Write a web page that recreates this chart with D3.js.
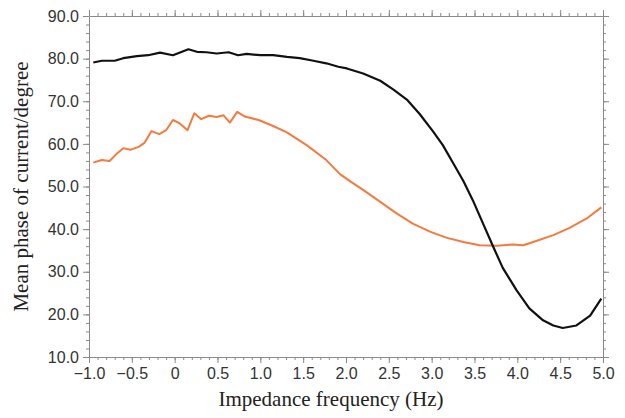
<!DOCTYPE html>
<html>
<head>
<meta charset="utf-8">
<script src="https://d3js.org/d3.v7.min.js"></script>
<style>
  body { margin: 0; background: #fff; }
  .tick text { font-family: "Liberation Sans", Arial, sans-serif; font-size: 16px; fill: #333; }
  .axis path, .axis line { stroke: #8a8a8a; }
  .lbl { font-family: "Liberation Serif", "Times New Roman", serif; font-size: 21px; fill: #222; }
</style>
</head>
<body>
<svg id="chart" width="625" height="418"></svg>
<script>
// frequency (Hz) and mean phase (degree)
var blackX = [-0.95,-0.85,-0.70,-0.60,-0.44,-0.31,-0.17,-0.02,0.16,0.26,0.37,0.49,0.63,0.74,0.84,1.00,1.15,1.31,1.46,1.62,1.77,1.91,2.01,2.20,2.40,2.55,2.71,2.86,3.02,3.13,3.25,3.37,3.48,3.60,3.72,3.83,3.99,4.14,4.30,4.42,4.53,4.69,4.85,4.98];
var blackY = [79.1,79.5,79.5,80.1,80.6,80.8,81.4,80.8,82.2,81.6,81.5,81.2,81.5,80.8,81.1,80.8,80.8,80.4,80.1,79.5,78.9,78.1,77.7,76.5,74.8,72.8,70.4,67.0,62.8,59.7,55.5,51.3,46.8,41.3,35.8,30.9,25.7,21.4,18.6,17.4,16.8,17.4,19.7,23.7];

var orangeX = [-0.95,-0.85,-0.76,-0.68,-0.60,-0.52,-0.42,-0.35,-0.27,-0.18,-0.10,-0.02,0.06,0.15,0.23,0.31,0.40,0.49,0.57,0.645,0.73,0.82,0.98,1.15,1.31,1.54,1.77,1.93,2.05,2.20,2.40,2.59,2.78,2.98,3.17,3.37,3.56,3.76,3.95,4.07,4.22,4.42,4.61,4.81,4.98];
var orangeY = [55.6,56.2,56.0,57.6,59.0,58.6,59.3,60.3,63.0,62.3,63.2,65.6,64.8,63.2,67.2,65.8,66.6,66.3,66.7,65.0,67.5,66.4,65.6,64.2,62.7,59.7,56.2,52.9,51.2,49.2,46.4,43.7,41.3,39.4,38.0,37.0,36.2,36.1,36.4,36.2,37.2,38.6,40.3,42.5,45.1];

var xTicks = [-1.0,-0.5,0,0.5,1.0,1.5,2.0,2.5,3.0,3.5,4.0,4.5,5.0];
var yTicks = [10,20,30,40,50,60,70,80,90];

var padL = 89, padR = 603, padT = 16, padB = 357;
var svg = d3.select("#chart");

var x = d3.scaleLinear().domain([-1, 5]).range([padL, padR]);
var y = d3.scaleLinear().domain([10, 90]).range([padB, padT]);

var xMinor = d3.range(-1, 5.0001, 0.1).map(function(d) { return Math.round(d * 10) / 10; });
var yMinor = d3.range(10, 90.001, 2);

function fmtX(d) {
  if (d === 0) return "0";
  return (d < 0 ? "\u2212" : "") + Math.abs(d).toFixed(1);
}

// minor ticks
svg.append("g").attr("class", "axis").attr("transform", "translate(0," + padB + ")")
  .call(d3.axisBottom(x).tickValues(xMinor).tickSize(3).tickFormat(""))
  .select(".domain").remove();
svg.append("g").attr("class", "axis").attr("transform", "translate(0," + padT + ")")
  .call(d3.axisTop(x).tickValues(xMinor).tickSize(3).tickFormat(""))
  .select(".domain").remove();
svg.append("g").attr("class", "axis").attr("transform", "translate(" + padL + ",0)")
  .call(d3.axisLeft(y).tickValues(yMinor).tickSize(3).tickFormat(""))
  .select(".domain").remove();
svg.append("g").attr("class", "axis").attr("transform", "translate(" + padR + ",0)")
  .call(d3.axisRight(y).tickValues(yMinor).tickSize(3).tickFormat(""))
  .select(".domain").remove();

// major ticks with labels
svg.append("g").attr("class", "axis").attr("transform", "translate(0," + padB + ")")
  .call(d3.axisBottom(x).tickValues(xTicks).tickSize(6).tickSizeOuter(0).tickPadding(5).tickFormat(fmtX));
svg.append("g").attr("class", "axis").attr("transform", "translate(0," + padT + ")")
  .call(d3.axisTop(x).tickValues(xTicks).tickSize(6).tickSizeOuter(0).tickFormat(""));
svg.append("g").attr("class", "axis").attr("transform", "translate(" + padL + ",0)")
  .call(d3.axisLeft(y).tickValues(yTicks).tickSize(6).tickSizeOuter(0).tickPadding(4).tickFormat(d3.format(".1f")));
svg.append("g").attr("class", "axis").attr("transform", "translate(" + padR + ",0)")
  .call(d3.axisRight(y).tickValues(yTicks).tickSize(6).tickSizeOuter(0).tickFormat(""));

var line = d3.line()
  .x(function(d) { return x(d[0]); })
  .y(function(d) { return y(d[1]); });

svg.append("path")
  .datum(d3.zip(orangeX, orangeY))
  .attr("fill", "none").attr("stroke", "#f47b3f").attr("stroke-width", 2)
  .attr("stroke-linejoin", "round")
  .attr("d", line);

svg.append("path")
  .datum(d3.zip(blackX, blackY))
  .attr("fill", "none").attr("stroke", "#111").attr("stroke-width", 2.2)
  .attr("stroke-linejoin", "round")
  .attr("d", line);

svg.append("text").attr("class", "lbl")
  .attr("x", 331).attr("y", 406)
  .attr("text-anchor", "middle")
  .text("Impedance frequency (Hz)");

svg.append("text").attr("class", "lbl")
  .attr("transform", "translate(28," + ((padT + padB) / 2) + ") rotate(-90)")
  .attr("text-anchor", "middle")
  .text("Mean phase of current/degree");
</script>
</body>
</html>
